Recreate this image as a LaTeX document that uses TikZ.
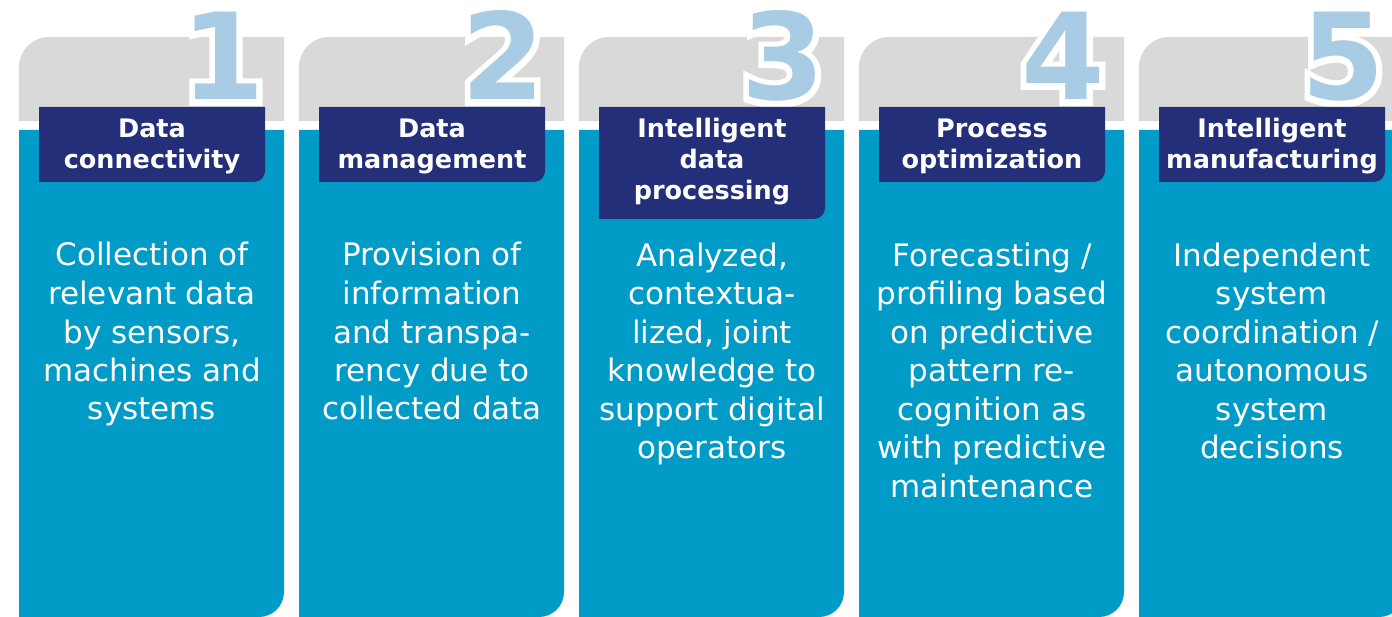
\documentclass[tikz,border=0pt]{standalone}
\usepackage{fontspec}
\setmainfont{DejaVu Sans}
\newfontfamily\numoutline[FakeBold=10]{DejaVu Sans Bold}
\definecolor{topgray}{HTML}{D9D9D9}
\definecolor{tealc}{HTML}{009BC6}
\definecolor{navy}{HTML}{232F78}
\definecolor{numblue}{HTML}{A8CCE3}
\tikzset{
  graytop/.style={fill=topgray},
  tealbody/.style={fill=tealc},
  titlebox/.style={fill=navy},
  titletext/.style={text=white, font=\bfseries\fontsize{25.5}{31}\selectfont, align=center, anchor=base, inner sep=0pt},
  bodytext/.style={text=white, font=\fontsize{31}{38.5}\selectfont, align=center, anchor=base, inner sep=0pt},
  numtext/.style={font=\bfseries\fontsize{120}{120}\selectfont, anchor=base east, inner sep=0pt},
  numhalo/.style={font=\numoutline\fontsize{120}{120}\selectfont, anchor=base east, inner sep=0pt, text=white},
}
% #1 x offset, #2 number, #3 title bottom, #4 title lines, #5 title, #6 body lines, #7 body
\newcommand\stagecol[7]{%
  \fill[graytop] (#1,121) [rounded corners=30] -- (#1,37) [sharp corners] -- (#1+265,37) -- (#1+265,121) -- cycle;
  \fill[tealbody] (#1,130) -- (#1+265,130) [rounded corners=25] -- (#1+265,617) [sharp corners] -- (#1,617) -- cycle;
  \node[numhalo] (n#2w) at (#1+246,100) {#2};
  \node[numtext, text=numblue] (n#2) at (#1+246,100) {#2};
  \fill[titlebox] (#1+20,107) -- (#1+246,107) [rounded corners=11] -- (#1+246,#3) [sharp corners] -- (#1+20,#3) -- cycle;
  \node[titletext] (t#2) at (#1+133,{138+(#4-1)*31}) {#5};
  \node[bodytext] (b#2) at (#1+133,{266+(#6-1)*38.5}) {#7};
}
\begin{document}
\begin{tikzpicture}[x=1pt,y=-1pt]
\useasboundingbox (0,0) rectangle (1392,617);
\clip (0,0) rectangle (1392,617);
\fill[white] (0,0) rectangle (1392,617);
\stagecol{19}{1}{182}{2}{Data\\connectivity}{5}{Collection of\\relevant data\\by sensors,\\machines and\\systems}
\stagecol{299}{2}{182}{2}{Data\\management}{5}{Provision of\\information\\and transpa-\\rency due to\\collected data}
\stagecol{579}{3}{219}{3}{Intelligent\\data\\processing}{6}{Analyzed,\\contextua-\\lized, joint\\knowledge to\\support digital\\operators}
\stagecol{859}{4}{182}{2}{Process\\optimization}{7}{Forecasting /\\profiling based\\on predictive\\pattern re-\\cognition as\\with predictive\\maintenance}
\stagecol{1139}{5}{182}{2}{Intelligent\\manufacturing}{6}{Independent\\system\\coordination /\\autonomous\\system\\decisions}
\end{tikzpicture}
\end{document}
